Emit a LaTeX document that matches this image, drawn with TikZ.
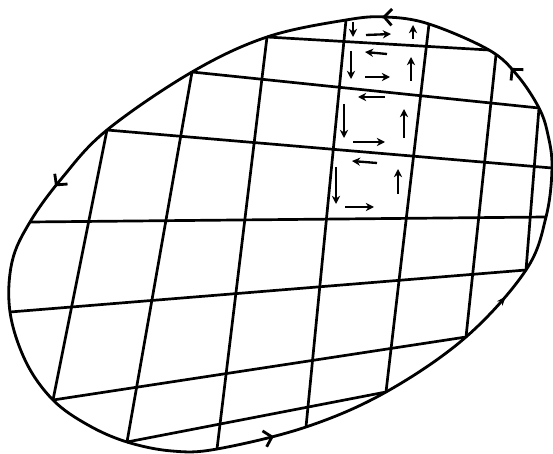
\documentclass[tikz,border=0pt]{standalone}
\usepackage{tikz}
\usetikzlibrary{arrows.meta, decorations.markings}

\tikzset{rimhead/.tip={Straight Barb[length=6.5pt, width=14pt]}}

\begin{document}
\begin{tikzpicture}[
  x=0.03cm, y=-0.03cm,
  rim/.style={line width=2.4pt, line join=round,
              postaction={decorate},
              decoration={markings,
                mark=at position 0.226 with {\arrow{rimhead}},
                mark=at position 0.537 with {\arrow{rimhead}},
                mark=at position 0.718 with {\arrow{Stealth[length=8pt, width=6pt]}},
                mark=at position 0.883 with {\arrow{rimhead}},
                mark=at position 0.976 with {\arrow{rimhead}}}},
  gridline/.style={line width=2.3pt},
  flow/.style={-{Stealth[length=7pt, width=7pt]}, line width=2pt}
]
  \useasboundingbox (0,0) rectangle (553,454);

  % Points where the grid meets the rim
  \coordinate (top) at (386,17);
  \coordinate (v4t) at (346,20);
  \coordinate (v3t) at (267,37);
  \coordinate (v2t) at (192,72);
  \coordinate (v1t) at (107,130);
  \coordinate (h4l) at (30,222);
  \coordinate (h5l) at (10,312);
  \coordinate (v1b) at (53,400);
  \coordinate (v2b) at (127,442);
  \coordinate (v3b) at (217,449);
  \coordinate (v4b) at (306,427);
  \coordinate (v5b) at (386,392);
  \coordinate (v6b) at (466,337);
  \coordinate (v7b) at (526,270);
  \coordinate (h4r) at (546,217);
  \coordinate (h3r) at (552,168);
  \coordinate (v7t) at (539,108);
  \coordinate (h1r) at (489,50);
  \coordinate (v6t) at (496,55);
  \coordinate (v5t) at (429,24);

  % Rim, run round counter-clockwise
  \draw[rim] plot[smooth cycle, tension=0.6] coordinates {
    (top) (v4t) (v3t) (v2t) (v1t) (62,178) (h4l) (12,262) (h5l)
    (26,362) (v1b) (88,425) (v2b) (172,451) (v3b) (v4b) (v5b)
    (v6b) (v7b) (h4r) (h3r) (548,135) (v7t) (517,75) (h1r) (v5t)};

  % Grid lines across
  \draw[gridline] (v3t) -- (h1r);
  \draw[gridline] (v2t) -- (v7t);
  \draw[gridline] (v1t) -- (h3r);
  \draw[gridline] (h4l) -- (h4r);
  \draw[gridline] (h5l) -- (v7b);
  \draw[gridline] (v1b) -- (v6b);
  \draw[gridline] (v2b) -- (v5b);

  % Grid lines down
  \draw[gridline] (v1t) -- (v1b);
  \draw[gridline] (v2t) -- (v2b);
  \draw[gridline] (v3t) -- (v3b);
  \draw[gridline] (v4t) -- (v4b);
  \draw[gridline] (v5t) -- (v5b);
  \draw[gridline] (v6t) -- (v6b);
  \draw[gridline] (v7t) -- (v7b);

  % Circulation round the cells of one column
  \draw[flow] (353,22) -- (353,37);
  \draw[flow] (366,35) -- (391,34);
  \draw[flow] (413,39) -- (413,25);

  \draw[flow] (387,54) -- (365,52);
  \draw[flow] (351,51) -- (351,79);
  \draw[flow] (365,77) -- (390,77);
  \draw[flow] (411,81) -- (411,57);

  \draw[flow] (385,97) -- (358,97);
  \draw[flow] (344,104) -- (344,138);
  \draw[flow] (353,142) -- (385,142);
  \draw[flow] (404,138) -- (404,109);

  \draw[flow] (377,163) -- (352,161);
  \draw[flow] (336,167) -- (336,204);
  \draw[flow] (345,207) -- (374,207);
  \draw[flow] (398,194) -- (398,169);
\end{tikzpicture}
\end{document}
